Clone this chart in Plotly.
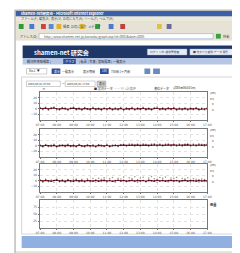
import numpy as np
import plotly.graph_objects as go

W, H = 240, 253

# ---------------- data ----------------
time_labels = ["07:00", "08:00", "09:00", "10:00", "11:00", "12:00",
               "13:00", "14:00", "15:00", "16:00", "17:00"]

p1_line = [0.8, 0.2, 1.1, -0.3, 0.6, 1.4, 0.1, -0.5, 0.9, 0.3,
           -0.8, 0.5, 1.2, -0.2, 0.4, -1.0, 0.7, 0.0, -0.6, 0.9,
           -0.4, 0.2, -1.1, 0.5, -0.3, 0.8, -0.9, 0.1, -0.5, 0.6,
           -1.2, 0.3, -0.2, 0.7, -0.8, 0.4, -0.1, 0.9, -0.6, 0.2,
           -0.9, 0.5, 1.0, -0.4, 0.3, -0.7, 0.6, -0.2, 0.8, -1.0,
           0.1, -0.5, 0.4, -0.8, 0.2, -0.3, 0.6, -0.9, 0.0, -0.4, 0.3]
p1_obs = [2.1, -1.8, 2.6, -2.4, 1.9, 3.0, -1.5, -2.7, 2.3, 1.2,
          -2.9, 1.7, 2.8, -2.0, 1.4, -3.1, 2.2, -1.3, -2.5, 2.7,
          -2.2, 1.5, -3.0, 2.0, -1.9, 2.4, -2.8, 1.6, -2.3, 2.5,
          -3.2, 1.8, -1.7, 2.9, -2.6, 1.9, -1.4, 2.6, -2.4, 1.3,
          -2.8, 2.2, 3.1, -2.1, 1.6, -2.7, 2.4, -1.6, 2.8, -3.0,
          1.5, -2.3, 2.0, -2.6, 1.7, -1.8, 2.3, -2.9, 1.4, -2.1, 1.9]
p2_line = [0.4, -0.6, 0.9, 0.1, -0.3, 0.7, -0.9, 0.2, 0.5, -0.4,
           0.8, -0.2, 0.3, -0.7, 1.0, 0.0, -0.5, 0.6, -0.1, 0.4,
           -0.8, 0.7, 0.2, -0.3, 0.9, -0.6, 0.1, 0.5, -0.4, 0.8,
           1.2, 0.6, 1.0, 1.4, 0.8, 1.3, 0.9, 1.5, 1.1, 0.7,
           1.2, 1.6, 1.0, 1.4, 0.9, 1.3, 1.7, 1.1, 1.5, 1.0,
           1.4, 0.8, 1.2, 1.6, 1.0, 1.3, 0.9, 1.5, 1.1, 1.4, 1.2]
p2_obs = [1.8, -2.2, 2.4, -1.5, 1.2, 2.6, -2.5, 1.6, 2.0, -1.9,
          2.5, -1.4, 1.7, -2.3, 2.8, -1.2, -2.0, 2.1, -1.6, 1.9,
          -2.4, 2.3, 1.5, -1.8, 2.6, -2.1, 1.4, 2.2, -1.7, 2.4,
          2.9, -0.8, 3.0, 3.3, -0.5, 3.1, -0.9, 3.4, 2.8, -0.7,
          3.0, 3.5, -0.6, 3.2, -0.9, 3.1, 3.6, -0.4, 3.3, -0.8,
          3.2, -0.7, 3.0, 3.5, -0.6, 3.1, -0.9, 3.4, 2.9, -0.5, 3.0]
p3_line = [0.6, -0.4, 0.9, 0.2, -0.7, 0.5, 1.1, -0.3, 0.4, -0.9,
           0.7, 0.0, -0.5, 0.8, -0.2, 0.3, -0.8, 0.6, 0.1, -0.4,
           0.9, -0.6, 0.2, 0.7, -0.3, 0.5, -0.9, 0.4, 1.0, -0.2,
           0.6, -0.7, 0.3, 0.9, -0.4, 0.8, -0.1, 0.5, -0.8, 0.7,
           0.2, -0.5, 1.0, -0.3, 0.6, -0.6, 0.4, 0.9, -0.2, 0.5,
           -0.7, 0.3, 0.8, -0.4, 0.6, 0.1, -0.5, 0.7, -0.3, 0.4, 0.0]
p3_obs = [2.0, -2.4, 2.6, -1.8, 1.5, -2.7, 2.9, -2.0, 1.8, -2.9,
          2.4, -1.6, 2.2, 3.1, -2.2, 2.7, -2.6, 3.4, -1.7, 4.0,
          -2.3, 4.6, 2.5, 5.2, -2.0, 3.8, 6.0, -2.5, 4.4, 3.2,
          6.8, -1.9, 5.5, 4.1, 7.2, -2.4, 5.0, 6.3, -2.1, 4.8,
          7.5, 3.6, -2.6, 5.8, 4.3, 6.6, -2.2, 5.1, 3.9, 6.1,
          -2.5, 4.5, 3.3, 5.4, -2.0, 3.7, 2.8, -2.3, 3.0, 2.2, -1.9]

t = np.arange(len(p1_line)) / 6.0  # hours from start

# ---------------- helpers ----------------
def px(x):
    return x / W

def py(y):
    return 1 - y / H

fig = go.Figure()
shapes = []
ann = []

def rect(x0, y0, x1, y1, fill, line=None, lw=0.6):
    shapes.append(dict(type="rect", xref="paper", yref="paper",
                       x0=px(x0), x1=px(x1), y0=py(y1), y1=py(y0),
                       fillcolor=fill, layer="below",
                       line=dict(color=line or fill, width=lw if line else 0)))

def txt(x, y, s, size=4, color="#333", bold=False, anchor="left", va="middle",
        family="Noto Sans CJK JP"):
    if bold:
        s = "<b>" + s + "</b>"
    ann.append(dict(xref="paper", yref="paper", x=px(x), y=py(y), text=s,
                    showarrow=False, xanchor=anchor, yanchor=va, borderpad=0,
                    font=dict(size=size, color=color, family=family)))

# ---------------- browser chrome ----------------
rect(3, 2, 239, 252, "#d6d3c8", "#8a8a8a")
rect(4, 3, 238, 8.5, "#3b5fa8")
txt(8, 5.8, "shamen-net研究会 - Microsoft Internet Explorer", 3.6, "white", True)
rect(229, 3.6, 237, 8, "#c85a3a")
rect(4, 8.5, 238, 13.5, "#ece9d8")
txt(8, 11, "ファイル(F)  編集(E)  表示(V)  お気に入り(A)  ツール(T)  ヘルプ(H)", 3.2, "#444")
rect(4, 13.5, 238, 24, "#e6e3d6")
for x0, c in [(7, "#2e9a3a"), (18, "#4a7ac8"), (30, "#d04040"), (38, "#5a8ad0"),
              (46, "#e0b030"), (70, "#e0b030"), (86, "#3a9a4a"), (100, "#4a7ac8"),
              (112, "#c04040"), (150, "#e0c040"), (160, "#6a6a9a")]:
    rect(x0, 16, x0 + 5, 21, c)
txt(52, 18.5, "検索  お気に入り  メディア", 3.2, "#444")
rect(4, 24, 238, 32.5, "#e6e3d6")
txt(7, 28.2, "アドレス(D)", 3.2, "#444")
rect(28, 25.6, 208, 30.8, "#ffffff", "#7f9db9", 0.5)
txt(32, 28.2, "http://www.shamen-net.jp/kansoku/graph.asp?id=0001&date=2005", 3.2, "#555")
rect(211, 25.8, 216, 30.6, "#3aa040")
txt(217, 28.2, "移動", 3.2, "#444")

# page
rect(4, 32.5, 234, 243.5, "#ffffff")
rect(234, 32.5, 238, 243.5, "#e4e4e0")

# header
rect(11, 37.5, 234, 50, "#1f3766")
txt(22, 44, "shamen-net 研究会", 6, "white", True)
rect(140, 41, 181, 47, "#e8ecf4", "#9aaacc", 0.4)
txt(142, 44, "ログイン中: 観測管理者", 2.8, "#445")
rect(184, 41, 232, 47, "#e8ecf4", "#9aaacc", 0.4)
txt(186, 44, "■ 地すべり観測 データ 閲覧", 2.8, "#445")

# nav
rect(11, 50, 234, 56.5, "#b6c7e6")
rect(53, 50.8, 66, 56, "#2d4f9c")
txt(14, 53.3, "観測所情報検索 |", 3.2, "#334")
txt(54, 53.3, "グラフ", 3.2, "white")
txt(68, 53.3, "| 帳票 | 写真 | 警報履歴 | 一覧表示", 3.2, "#334")

# controls
rect(15, 60.5, 36, 66, "#ffffff", "#888", 0.4)
txt(17, 63.3, "No.1  ▼", 3, "#333")
rect(41, 60.5, 50, 66, "#2d4f9c")
txt(42, 63.3, "表示", 3, "white")
txt(51, 63.3, "一覧表示", 3, "#333")
txt(72, 63.3, "表示期間", 3, "#333")
rect(91, 60.5, 100, 66, "#2d4f9c")
txt(92, 63.3, "1日", 3, "white")
txt(101, 63.3, "7日間 1ヶ月間", 3, "#333")
rect(137, 60.5, 143, 66, "#6a8ac0")
rect(146, 60.5, 153, 66, "#6a8ac0")

rect(15, 73, 50, 78.5, "#ffffff", "#888", 0.4)
txt(16, 75.8, "2005/06/01 07:00", 2.8, "#444")
txt(51, 75.8, "～", 3, "#444")
rect(55, 73, 86, 78.5, "#ffffff", "#888", 0.4)
txt(56, 75.8, "2005/06/01 17:00", 2.8, "#444")
rect(88, 73, 97, 78.5, "#d0d0d0", "#777", 0.4)
txt(89, 75.8, "表示", 3, "#333")

# chart frame + footer
rect(10, 69, 232, 226, "rgba(0,0,0,0)", "#bbbbbb", 0.6)
rect(10, 228, 232, 240, "#8fb0e0")
rect(4, 243.5, 238, 250, "#e4e2d8")
rect(199, 245, 202, 248.5, "#333")
txt(203, 246.5, "Internet", 2.6, "#444", family="DejaVu Sans")

# legend
txt(30, 81, "ｎ", 3.5, "#444")
txt(84, 80.5, "■ 実測データ", 3, "#333")
txt(104, 80.5, "－－ ﾓﾃﾞﾙ計算値", 3, "#888")
txt(146, 80.5, "潮位データ", 3, "#333")
txt(165, 80.5, "(2005年06月01日)", 2.8, "#333")

# ---------------- charts ----------------
panels = [(84, 112), (121, 149), (156, 184), (192, 220)]
series = [(p1_line, p1_obs), (p2_line, p2_obs), (p3_line, p3_obs), (None, None)]
x0d, x1d = px(29), px(202)

for i, ((top, bot), (ln, ob)) in enumerate(zip(panels, series), start=1):
    xa = "x" if i == 1 else f"x{i}"
    ya = "y" if i == 1 else f"y{i}"
    if ob is not None:
        fig.add_trace(go.Scatter(x=t, y=ob, mode="markers", xaxis=xa, yaxis=ya,
                                 marker=dict(size=1.6, color="#9a9a9a"),
                                 showlegend=False, hoverinfo="skip"))
        fig.add_trace(go.Scatter(x=t, y=ln, mode="lines+markers", xaxis=xa, yaxis=ya,
                                 line=dict(color="#8b2035", width=1.2),
                                 marker=dict(size=1.6, color="#3a1018"),
                                 showlegend=False, hoverinfo="skip"))
    else:
        fig.add_trace(go.Scatter(x=[t[0], t[-1]], y=[None, None], mode="lines",
                                 xaxis=xa, yaxis=ya, showlegend=False))
    kx = "xaxis" if i == 1 else f"xaxis{i}"
    ky = "yaxis" if i == 1 else f"yaxis{i}"
    common = dict(showline=True, mirror=True, linecolor="#777", linewidth=0.8,
                  showgrid=True, gridcolor="#e2e2e2", griddash="dot", gridwidth=0.5,
                  zeroline=False, ticks="outside", ticklen=1.5, tickcolor="#777",
                  tickfont=dict(size=3, color="#555", family="DejaVu Sans"))
    fig.layout[kx] = dict(domain=[x0d, x1d], anchor=ya, range=[0, 10],
                          tickvals=list(range(11)), ticktext=time_labels, **common)
    if ob is not None:
        fig.layout[ky] = dict(domain=[py(bot), py(top)], anchor=xa, range=[-20, 30],
                              tickvals=[-10, 0, 10, 20], **common)
        txt(204, top + 1, "(cm)", 2.8, "#444")
        txt(204, top + 7, "0.5", 2.8, "#444")
        txt(206, top + 12, "0", 2.8, "#444")
        txt(206, top + 18, "0", 2.8, "#444")
    else:
        fig.layout[ky] = dict(domain=[py(bot), py(top)], anchor=xa, range=[0, 100],
                              tickvals=[25, 50, 75], **common)
        txt(204, top + 4, "雨量", 3.2, "#222", True)

fig.update_layout(width=W, height=H, margin=dict(l=0, r=0, t=0, b=0),
                  paper_bgcolor="#ffffff", plot_bgcolor="#ffffff",
                  shapes=shapes, annotations=ann, showlegend=False)
fig.write_html("out.html", config={"displayModeBar": False})
